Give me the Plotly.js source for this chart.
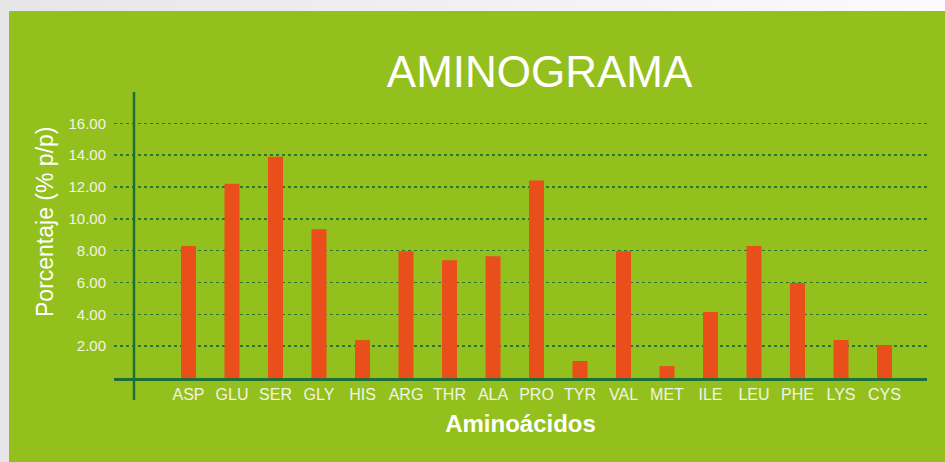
<!DOCTYPE html>
<html>
<head>
<meta charset="utf-8">
<script src="https://cdn.plot.ly/plotly-3.0.1.min.js"></script>
<style>
  html, body { margin: 0; padding: 0; width: 945px; height: 462px; overflow: hidden; }
  body { background: linear-gradient(to right, #e6e6e6, #fbfbfb); position: relative; }
  #panel { position: absolute; left: 9px; top: 11px; right: 0; bottom: 0; background: #94c01e; }
  #chart { position: absolute; left: 0; top: 0; width: 945px; height: 462px; }
</style>
</head>
<body>
<div id="panel"></div>
<div id="chart"></div>
<script>
const aminoacidos = ["ASP","GLU","SER","GLY","HIS","ARG","THR","ALA","PRO","TYR","VAL","MET","ILE","LEU","PHE","LYS","CYS"];
const porcentaje = [8.3, 12.2, 13.9, 9.35, 2.38, 7.96, 7.4, 7.65, 12.41, 1.07, 7.97, 0.75, 4.15, 8.29, 5.97, 2.39, 2.07];
const yTickVals = [2, 4, 6, 8, 10, 12, 14, 16];
const yTickText = ["2.00","4.00","6.00","8.00","10.00","12.00","14.00","16.00"];

const darkGreen = '#1e6e38';
const labelColor = '#f1f4e2';

const data = [{
  type: 'bar',
  x: aminoacidos,
  y: porcentaje,
  marker: { color: '#e94e1b', line: { width: 0 } },
  hoverinfo: 'x+y'
}];

const layout = {
  width: 945, height: 462,
  paper_bgcolor: 'rgba(0,0,0,0)',
  plot_bgcolor: 'rgba(0,0,0,0)',
  margin: { l: 114, r: 18, t: 92, b: 84, pad: 0 },
  bargap: 0.655,
  showlegend: false,
  title: {
    text: 'AMINOGRAMA',
    font: { family: 'Liberation Sans, Arial, sans-serif', size: 44, color: '#ffffff' },
    x: 0.571, xanchor: 'center',
    y: 0.846, yanchor: 'middle', yref: 'container'
  },
  xaxis: {
    type: 'category',
    range: [-1.7126, 16.977],
    showline: true, linecolor: darkGreen, linewidth: 3,
    showgrid: false, zeroline: false,
    ticks: '', ticklabelstandoff: 0,
    tickfont: { family: 'Liberation Sans, Arial, sans-serif', size: 16, color: labelColor },
    title: {
      text: '<b>Aminoácidos</b>',
      font: { family: 'Liberation Sans, Arial, sans-serif', size: 24, color: '#ffffff' },
      standoff: 13
    },
    fixedrange: true
  },
  yaxis: {
    range: [0, 17.97],
    tickvals: yTickVals, ticktext: yTickText,
    showline: false, zeroline: false,
    showgrid: true, gridcolor: '#2a7530', gridwidth: 1.5, griddash: 'dot',
    ticks: '', ticklabelstandoff: 7,
    tickfont: { family: 'Liberation Sans, Arial, sans-serif', size: 15, color: labelColor },
    fixedrange: true
  },
  annotations: [{
    text: 'Porcentaje (% p/p)',
    xref: 'paper', yref: 'paper',
    x: (45 - 114) / 813, y: (378 - 222) / 286,
    xanchor: 'center', yanchor: 'middle',
    textangle: -90, showarrow: false,
    font: { family: 'Liberation Sans, Arial, sans-serif', size: 23, color: '#ffffff' }
  }],
  shapes: [{
    type: 'line', xref: 'paper', yref: 'paper',
    x0: 0.0246, x1: 0.0246, y0: -0.077, y1: 1,
    line: { color: darkGreen, width: 2.5 }
  }]
};

Plotly.newPlot('chart', data, layout, { displayModeBar: false, staticPlot: true });
</script>
</body>
</html>
